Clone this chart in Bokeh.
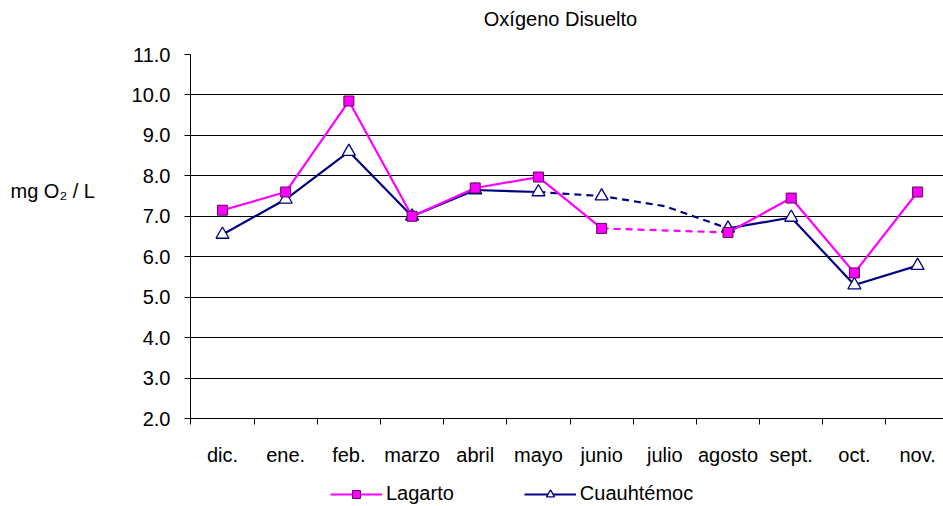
import math
from bokeh.plotting import figure
from bokeh.layouts import row, column
from bokeh.models import (Range1d, FixedTicker, NumeralTickFormatter, Label,
                          Legend, LegendItem)
from bokeh.embed import file_html
from bokeh.resources import INLINE

months = ["dic.", "ene.", "feb.", "marzo", "abril", "mayo", "junio",
          "julio", "agosto", "sept.", "oct.", "nov."]
lagarto = [7.15, 7.6, 9.85, 7.0, 7.7, 7.97, 6.7, float("nan"), 6.6, 7.45, 5.6, 7.6]
cuauhtemoc = [6.55, 7.42, 8.6, 7.0, 7.65, 7.6, 7.5, 7.25, 6.7, 6.97, 5.3, 5.78]
y_ticks = [2, 3, 4, 5, 6, 7, 8, 9, 10, 11]

# segment structure (indices into the month list)
lag_solid = [list(range(0, 7)), list(range(8, 12))]
lag_dashed = [6, 8]
cua_solid = [list(range(0, 6)), list(range(8, 12))]
cua_dashed = [5, 6, 7, 8]
cua_markers = [0, 1, 2, 3, 4, 5, 6, 8, 9, 10, 11]

FONT = "Liberation Sans"
PINK = "#FF00FF"
NAVY = "#000080"
LAB_W = 110          # width of the y-label strip
FRAME_L = 190        # page x of the plot frame
FRAME_W = 753
TOP_H = 42           # title strip height
LEG_H = 28           # legend strip height

x = list(range(len(months)))


def blank(fig):
    fig.outline_line_color = None
    fig.grid.grid_line_color = None
    fig.background_fill_color = "white"
    fig.border_fill_color = "white"
    return fig


# ---------------- title strip ----------------
tfig = blank(figure(frame_width=FRAME_W, frame_height=TOP_H, output_backend="svg",
                    toolbar_location=None, x_range=Range1d(0, FRAME_W),
                    y_range=Range1d(0, TOP_H), x_axis_type=None, y_axis_type=None,
                    min_border_left=FRAME_L - LAB_W, min_border_right=0,
                    min_border_top=0, min_border_bottom=0))
tfig.add_layout(Label(x=560 - FRAME_L, y=TOP_H - 18, text="Oxígeno Disuelto",
                      text_align="center", text_baseline="middle", text_font=FONT,
                      text_font_size="20px", text_color="black"))

# ---------------- main chart ----------------
p = figure(frame_width=FRAME_W, frame_height=364, output_backend="svg", toolbar_location=None,
           x_range=Range1d(-0.506, 11.41), y_range=Range1d(2, 11),
           min_border_left=FRAME_L - LAB_W, min_border_right=0, min_border_top=54 - TOP_H,
           min_border_bottom=60)
p.outline_line_color = None
p.background_fill_color = "white"
p.border_fill_color = "white"

p.xaxis.ticker = FixedTicker(ticks=x, minor_ticks=[i - 0.5 for i in range(13)])
p.xaxis.major_label_overrides = {i: m for i, m in enumerate(months)}
p.xaxis.major_tick_out = 0
p.xaxis.major_tick_in = 0
p.xaxis.minor_tick_out = 6
p.xaxis.minor_tick_in = 0
p.xaxis.minor_tick_line_color = "black"
p.xaxis.major_label_standoff = 19
p.yaxis.ticker = FixedTicker(ticks=y_ticks)
p.yaxis.formatter = NumeralTickFormatter(format="0.0")
p.yaxis.major_tick_out = 6
p.yaxis.major_tick_in = 0
p.yaxis.minor_tick_line_color = None
p.yaxis.major_label_standoff = 14
for ax in (p.xaxis, p.yaxis):
    ax.axis_line_color = "black"
    ax.axis_line_width = 1
    ax.major_tick_line_color = "black"
    ax.major_label_text_font = FONT
    ax.major_label_text_font_size = "20px"
    ax.major_label_text_color = "black"
p.xgrid.grid_line_color = None
p.ygrid.grid_line_color = "black"
p.ygrid.grid_line_width = 1
p.ygrid.ticker = FixedTicker(ticks=y_ticks)

# Cuauhtémoc lines
for seg in cua_solid:
    p.line([x[i] for i in seg], [cuauhtemoc[i] for i in seg],
           line_color=NAVY, line_width=2.2)
p.line([x[i] for i in cua_dashed], [cuauhtemoc[i] for i in cua_dashed],
       line_color=NAVY, line_width=2.2, line_dash="7 5")

# Lagarto lines
for seg in lag_solid:
    p.line([x[i] for i in seg], [lagarto[i] for i in seg],
           line_color=PINK, line_width=2.2)
p.line([x[i] for i in lag_dashed], [lagarto[i] for i in lag_dashed],
       line_color=PINK, line_width=2.2, line_dash="7 5")

TRI = dict(marker="triangle", fill_color="white", line_color=NAVY, line_width=1.3)
SQ = dict(marker="square", fill_color=PINK, line_color="#5a0a5a", line_width=1)

p.scatter([x[i] for i in cua_markers], [cuauhtemoc[i] for i in cua_markers], size=13, **TRI)
lag_idx = [i for i in x if not math.isnan(lagarto[i])]
p.scatter([x[i] for i in lag_idx], [lagarto[i] for i in lag_idx], size=10, **SQ)

# ---------------- legend strip ----------------
# the series are drawn again here, outside this strip's visible range,
# only so that the legend has glyphs to show
leg = blank(figure(frame_width=FRAME_W, frame_height=LEG_H, output_backend="svg",
                   toolbar_location=None, x_range=Range1d(0, 1), y_range=Range1d(0, 1),
                   x_axis_type=None, y_axis_type=None,
                   min_border_left=FRAME_L - LAB_W, min_border_right=0,
                   min_border_top=0, min_border_bottom=0))
l_line = leg.line(lag_idx, [lagarto[i] for i in lag_idx], line_color=PINK, line_width=2.2)
l_pt = leg.scatter(lag_idx, [lagarto[i] for i in lag_idx], size=8, **SQ)
c_line = leg.line(cua_markers, [cuauhtemoc[i] for i in cua_markers], line_color=NAVY, line_width=2.2)
c_pt = leg.scatter(cua_markers, [cuauhtemoc[i] for i in cua_markers], size=10, **TRI)
legend = Legend(items=[LegendItem(label="Lagarto", renderers=[l_line, l_pt]),
                       LegendItem(label="Cuauhtémoc", renderers=[c_line, c_pt])],
                orientation="horizontal", location=(330 - FRAME_L, 1),
                glyph_width=52, glyph_height=20, label_height=20,
                label_standoff=4, spacing=70, padding=0, margin=0,
                label_text_font=FONT, label_text_font_size="20px",
                label_text_color="black",
                border_line_color=None, background_fill_alpha=0)
leg.add_layout(legend, "center")

# ---------------- y label strip ----------------
lab = blank(figure(width=LAB_W, height=506, output_backend="svg", toolbar_location=None,
                   x_range=Range1d(0, LAB_W), y_range=Range1d(0, 506),
                   x_axis_type=None, y_axis_type=None, min_border=0))
lab.add_layout(Label(x=10, y=506 - 190, text="mg O₂ / L", text_align="left",
                     text_baseline="middle", text_font=FONT, text_font_size="20px",
                     text_color="black"))

layout = row(lab, column(tfig, p, leg, spacing=0), spacing=0)
open("out.html", "w").write(file_html(layout, INLINE))
